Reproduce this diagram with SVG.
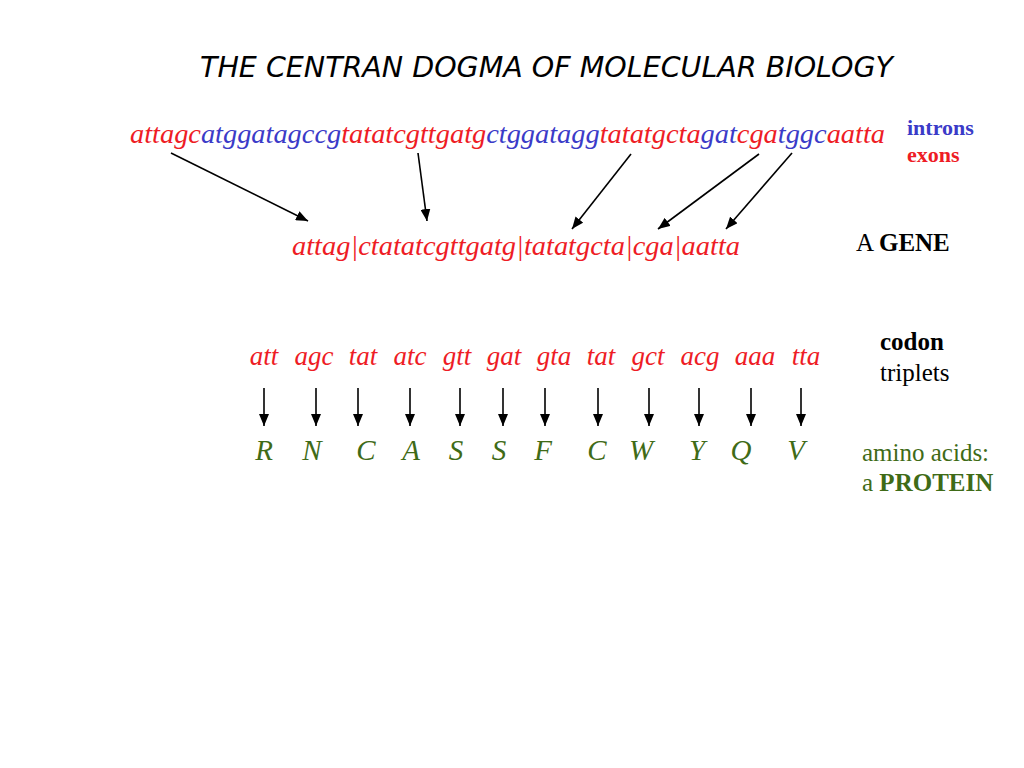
<svg xmlns="http://www.w3.org/2000/svg" width="1024" height="768" viewBox="0 0 1024 768">
<defs>
<style>
.seq{font-family:"Liberation Serif","Times New Roman",serif;font-style:italic;font-size:28px}
.lbl{font-family:"Liberation Serif","Times New Roman",serif;font-size:25px;fill:#000}
.leg{font-family:"Liberation Serif","Times New Roman",serif;font-size:22px;font-weight:bold}
.bold{font-weight:bold}
.title{font-family:"DejaVu Sans","Liberation Sans",sans-serif;font-style:italic;font-size:29px;fill:#000}
.cod{font-family:"Liberation Serif","Times New Roman",serif;font-style:italic;font-size:27px;text-anchor:middle}
.aa{font-family:"Liberation Serif","Times New Roman",serif;font-style:italic;font-size:29px;text-anchor:middle}
.r{fill:#ee1c25}
.b{fill:#3b3bc8}
.g{fill:#3f6b17}
.conn line{stroke:#000;stroke-width:1.6;marker-end:url(#ah)}
</style>
<marker id="ah" viewBox="0 0 12 10" refX="12" refY="5" markerWidth="12" markerHeight="10" markerUnits="userSpaceOnUse" orient="auto">
<path d="M0,0 L12,5 L0,10 z" fill="#000"/>
</marker>
</defs>
<rect width="1024" height="768" fill="#fff"/>

<g id="title">
<text class="title" x="200" y="77" textLength="693" lengthAdjust="spacingAndGlyphs">THE CENTRAN DOGMA OF MOLECULAR BIOLOGY</text>
</g>

<g id="dna">
<text class="seq" x="130" y="143" textLength="755" lengthAdjust="spacingAndGlyphs"><tspan class="r">attagc</tspan><tspan class="b">atggatagccg</tspan><tspan class="r">tatatcgttgatg</tspan><tspan class="b">ctggatagg</tspan><tspan class="r">tatatgcta</tspan><tspan class="b">gat</tspan><tspan class="r">cga</tspan><tspan class="b">tggc</tspan><tspan class="r">aatta</tspan></text>
</g>

<g id="legend">
<text class="leg b" x="907" y="135">introns</text>
<text class="leg r" x="907" y="162">exons</text>
</g>

<g id="gene">
<text class="seq r" x="292" y="255" textLength="448" lengthAdjust="spacingAndGlyphs">attag|ctatatcgttgatg|tatatgcta|cga|aatta</text>
</g>

<g id="gene-label">
<text class="lbl" x="856" y="251">A <tspan class="bold">GENE</tspan></text>
</g>

<g id="codon-label">
<text class="lbl bold" x="880" y="350">codon</text>
<text class="lbl" x="880" y="381">triplets</text>
</g>

<g id="protein-label">
<text class="lbl g" x="862" y="461">amino acids:</text>
<text class="lbl g" x="862" y="491">a <tspan class="bold">PROTEIN</tspan></text>
</g>

<g id="codons">
<g id="codon-1"><text class="cod r" x="264" y="365">att</text></g>
<g id="codon-2"><text class="cod r" x="314" y="365">agc</text></g>
<g id="codon-3"><text class="cod r" x="363" y="365">tat</text></g>
<g id="codon-4"><text class="cod r" x="410" y="365">atc</text></g>
<g id="codon-5"><text class="cod r" x="457" y="365">gtt</text></g>
<g id="codon-6"><text class="cod r" x="504" y="365">gat</text></g>
<g id="codon-7"><text class="cod r" x="554" y="365">gta</text></g>
<g id="codon-8"><text class="cod r" x="601" y="365">tat</text></g>
<g id="codon-9"><text class="cod r" x="648" y="365">gct</text></g>
<g id="codon-10"><text class="cod r" x="700" y="365">acg</text></g>
<g id="codon-11"><text class="cod r" x="755" y="365">aaa</text></g>
<g id="codon-12"><text class="cod r" x="806" y="365">tta</text></g>
</g>

<g id="amino-acids">
<g id="aa-1"><text class="aa g" x="264" y="460">R</text></g>
<g id="aa-2"><text class="aa g" x="312" y="460">N</text></g>
<g id="aa-3"><text class="aa g" x="366" y="460">C</text></g>
<g id="aa-4"><text class="aa g" x="411" y="460">A</text></g>
<g id="aa-5"><text class="aa g" x="456" y="460">S</text></g>
<g id="aa-6"><text class="aa g" x="499" y="460">S</text></g>
<g id="aa-7"><text class="aa g" x="543" y="460">F</text></g>
<g id="aa-8"><text class="aa g" x="597" y="460">C</text></g>
<g id="aa-9"><text class="aa g" x="641" y="460">W</text></g>
<g id="aa-10"><text class="aa g" x="697" y="460">Y</text></g>
<g id="aa-11"><text class="aa g" x="741" y="460">Q</text></g>
<g id="aa-12"><text class="aa g" x="796" y="460">V</text></g>
</g>

<g id="connectors" class="conn">
<line x1="171" y1="153" x2="308" y2="221"/>
<line x1="418" y1="153" x2="427" y2="221"/>
<line x1="631" y1="154" x2="572" y2="229"/>
<line x1="759" y1="154" x2="658" y2="229"/>
<line x1="792" y1="153" x2="726" y2="229"/>
<line x1="264" y1="388" x2="264" y2="426"/>
<line x1="316" y1="388" x2="316" y2="426"/>
<line x1="358" y1="388" x2="358" y2="426"/>
<line x1="410" y1="388" x2="410" y2="426"/>
<line x1="460" y1="388" x2="460" y2="426"/>
<line x1="503" y1="388" x2="503" y2="426"/>
<line x1="545" y1="388" x2="545" y2="426"/>
<line x1="598" y1="388" x2="598" y2="426"/>
<line x1="649" y1="388" x2="649" y2="426"/>
<line x1="699" y1="388" x2="699" y2="426"/>
<line x1="751" y1="388" x2="751" y2="426"/>
<line x1="801" y1="388" x2="801" y2="426"/>
</g>
</svg>
